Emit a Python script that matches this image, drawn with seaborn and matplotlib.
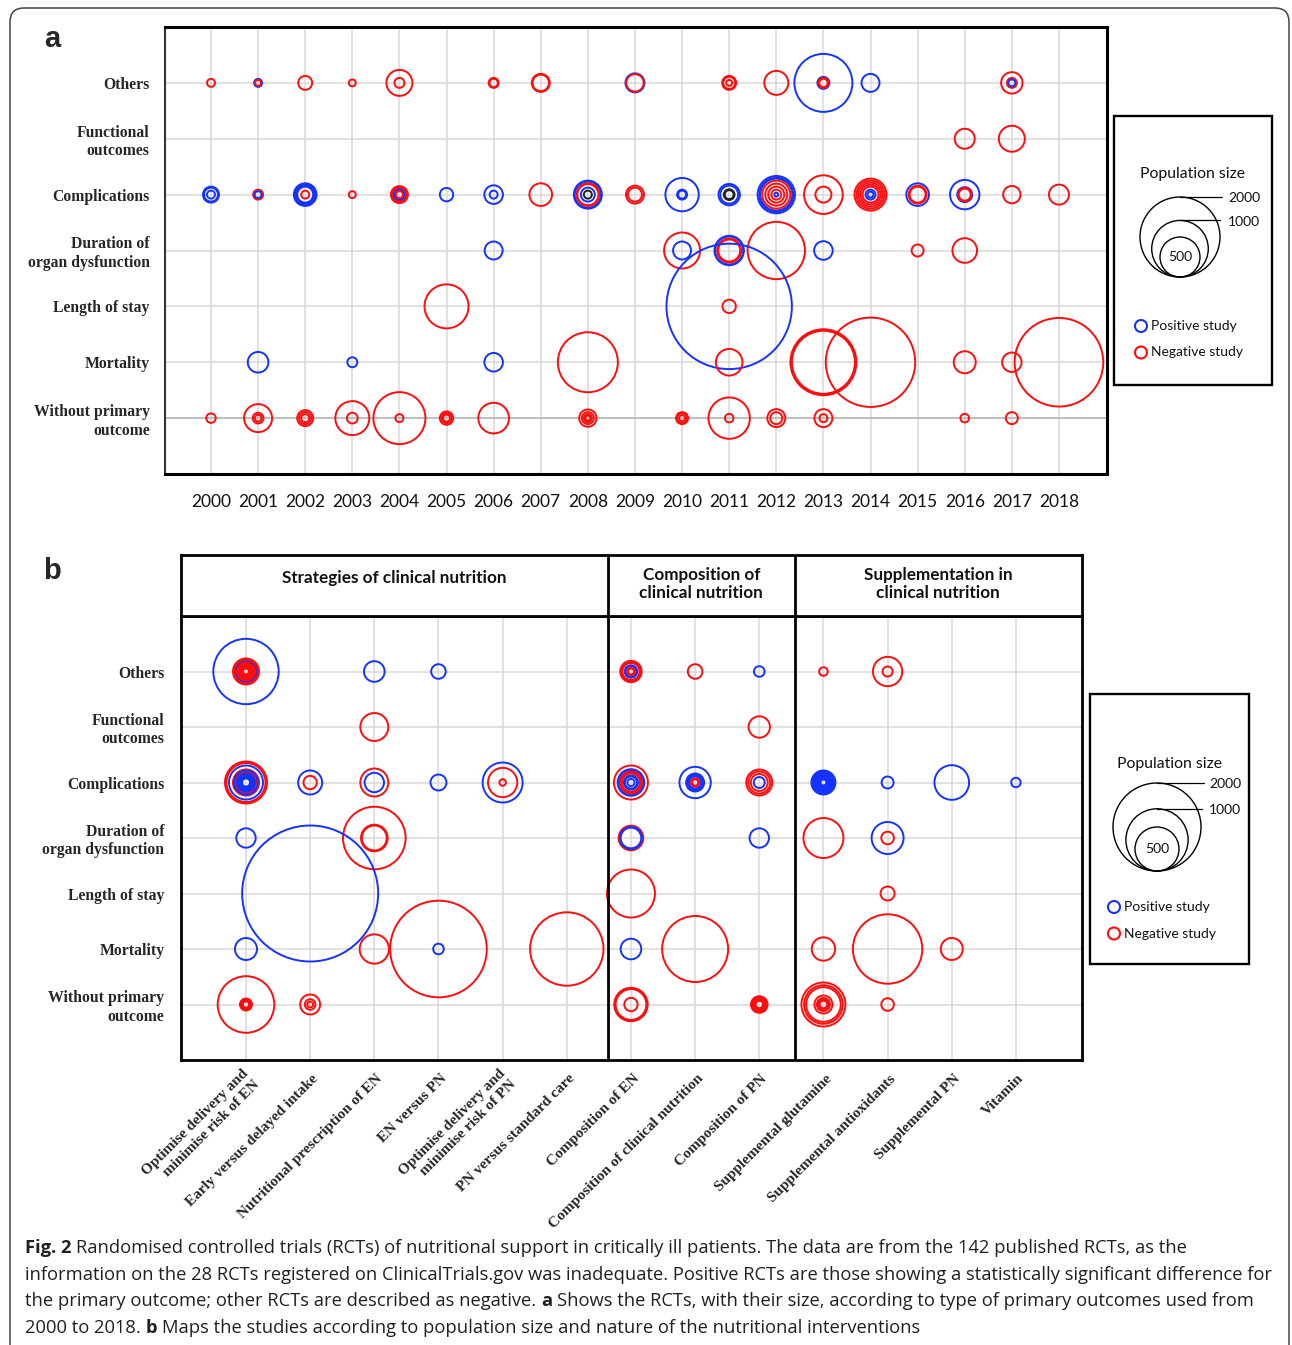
import numpy as np
import pandas as pd
import matplotlib
matplotlib.use("Agg")
import matplotlib.pyplot as plt
import matplotlib.transforms as mtransforms
from matplotlib.patches import Circle, Rectangle, FancyBboxPatch
import seaborn as sns

W, H, DPI = 1292, 1345, 100

# ---------------- data ----------------
OUTCOMES = ["Others", "Functional\noutcomes", "Complications",
            "Duration of\norgan dysfunction", "Length of stay", "Mortality",
            "Without primary\noutcome"]
YEARS = list(range(2000, 2019))
INTERVENTIONS = ["Optimise delivery and\nminimise risk of EN", "Early versus delayed intake",
                 "Nutritional prescription of EN", "EN versus PN",
                 "Optimise delivery and\nminimise risk of PN", "PN versus standard care",
                 "Composition of EN", "Composition of clinical nutrition", "Composition of PN",
                 "Supplemental glutamine", "Supplemental antioxidants", "Supplemental PN", "Vitamin"]
GROUPS = ["Strategies of clinical nutrition", "Composition of\nclinical nutrition",
          "Supplementation in\nclinical nutrition"]
RESULT_COLORS = {"P": "#1533ff", "N": "#ff0d0d", "U": "#222222"}
LEGEND_SIZES = [2000, 1000, 500]

# panel a: (year, population size, result)
A_OTHERS = [(2000, 20, "N"), (2001, 20, "P"), (2001, 11, "N"), (2002, 61, "N"), (2003, 15, "N"),
            (2004, 211, "N"), (2004, 31, "N"), (2006, 31, "N"), (2006, 22, "N"),
            (2007, 101, "N"), (2007, 85, "N"), (2009, 113, "P"), (2009, 95, "N"),
            (2011, 61, "N"), (2011, 45, "N"), (2011, 11, "N"), (2012, 180, "N"),
            (2013, 1051, "P"), (2013, 45, "P"), (2013, 31, "N"), (2013, 22, "N"),
            (2014, 101, "P"), (2017, 143, "N"), (2017, 31, "N"), (2017, 15, "P")]
A_FUNCTIONAL = [(2016, 125, "N"), (2017, 211, "N")]
A_COMPLICATIONS = [(2000, 80, "P"), (2000, 61, "P"), (2000, 20, "P"),
                   (2001, 31, "N"), (2001, 15, "P"),
                   (2002, 160, "P"), (2002, 130, "P"), (2002, 100, "P"), (2002, 80, "P"), (2002, 20, "N"),
                   (2003, 15, "N"),
                   (2004, 90, "N"), (2004, 70, "N"), (2004, 50, "N"), (2004, 31, "P"), (2004, 15, "N"),
                   (2005, 56, "P"), (2006, 108, "P"), (2006, 20, "P"), (2007, 160, "N"),
                   (2008, 245, "P"), (2008, 215, "P"), (2008, 160, "N"), (2008, 140, "N"),
                   (2008, 61, "P"), (2008, 20, "U"),
                   (2009, 101, "N"), (2009, 61, "N"),
                   (2010, 348, "P"), (2010, 31, "P"), (2010, 20, "P"),
                   (2011, 143, "P"), (2011, 101, "P"), (2011, 36, "U"), (2011, 25, "U"),
                   (2012, 436, "P"), (2012, 361, "P"), (2012, 320, "P"), (2012, 245, "N"),
                   (2012, 151, "N"), (2012, 80, "N"), (2012, 31, "N"), (2012, 5, "P"),
                   (2013, 467, "N"), (2013, 80, "N"),
                   (2014, 320, "N"), (2014, 245, "N"), (2014, 180, "N"), (2014, 125, "N"),
                   (2014, 80, "N"), (2014, 31, "P"), (2014, 11, "P"),
                   (2015, 160, "P"), (2015, 101, "N"), (2015, 80, "N"),
                   (2016, 270, "P"), (2016, 70, "P"), (2016, 56, "N"), (2016, 45, "N"),
                   (2017, 94, "N"), (2018, 125, "N")]
A_DURATION = [(2006, 101, "P"), (2010, 405, "N"), (2010, 101, "P"),
              (2011, 270, "P"), (2011, 245, "P"), (2011, 180, "N"), (2011, 151, "N"),
              (2012, 1028, "N"), (2013, 108, "P"), (2015, 45, "N"), (2016, 190, "N")]
A_LOS = [(2005, 605, "N"), (2011, 4914, "P"), (2011, 56, "N")]
A_MORTALITY = [(2001, 133, "P"), (2003, 31, "P"), (2006, 108, "P"), (2008, 1125, "N"),
               (2011, 221, "N"), (2013, 1361, "N"), (2013, 1300, "N"), (2013, 1240, "N"),
               (2014, 2497, "N"), (2016, 151, "N"), (2017, 118, "N"), (2018, 2453, "N")]
A_WITHOUT = [(2000, 28, "N"), (2001, 245, "N"), (2001, 36, "N"), (2001, 14, "N"),
             (2002, 80, "N"), (2002, 45, "N"), (2002, 20, "N"), (2003, 361, "N"), (2003, 36, "N"),
             (2004, 845, "N"), (2004, 20, "N"), (2005, 56, "N"), (2005, 31, "N"), (2005, 15, "N"),
             (2006, 294, "N"), (2008, 94, "N"), (2008, 45, "N"), (2008, 20, "N"), (2008, 8, "N"),
             (2010, 45, "N"), (2010, 31, "N"), (2010, 11, "N"), (2011, 535, "N"), (2011, 23, "N"),
             (2012, 101, "N"), (2012, 45, "N"), (2013, 101, "N"), (2013, 20, "N"),
             (2016, 23, "N"), (2017, 45, "N")]

# panel b: (intervention index, population size, result)
B_OTHERS = [(0, 1104, "P"), (0, 175, "N"), (0, 149, "N"), (0, 125, "N"), (0, 103, "P"),
            (0, 84, "N"), (0, 66, "N"), (0, 51, "N"), (0, 37, "N"), (0, 26, "N"), (0, 17, "N"), (0, 9, "N"),
            (2, 110, "P"), (3, 55, "P"),
            (6, 118, "N"), (6, 95, "N"), (6, 75, "N"), (6, 40, "P"), (6, 30, "P"), (6, 15, "N"), (6, 9, "N"),
            (7, 55, "N"), (8, 29, "P"), (9, 19, "N"), (10, 222, "N"), (10, 26, "N")]
B_FUNCTIONAL = [(2, 202, "N"), (8, 118, "N")]
B_COMPLICATIONS = [(0, 456, "N"), (0, 393, "N"), (0, 299, "P"), (0, 175, "N"), (0, 149, "P"),
                   (0, 125, "P"), (0, 103, "N"), (0, 84, "P"), (0, 66, "P"), (0, 51, "P"),
                   (0, 37, "P"), (0, 26, "P"), (0, 17, "P"),
                   (1, 149, "P"), (1, 46, "N"), (2, 202, "N"), (2, 97, "P"), (3, 66, "P"),
                   (4, 413, "P"), (4, 222, "N"), (4, 11, "N"),
                   (6, 299, "N"), (6, 183, "P"), (6, 160, "P"), (6, 125, "N"), (6, 100, "N"),
                   (6, 84, "N"), (6, 51, "P"), (6, 37, "P"), (6, 13, "P"),
                   (7, 254, "P"), (7, 84, "P"), (7, 66, "P"), (7, 51, "P"), (7, 37, "P"),
                   (7, 17, "N"), (7, 10, "N"),
                   (8, 175, "N"), (8, 125, "N"), (8, 75, "N"), (8, 31, "P"),
                   (9, 149, "P"), (9, 125, "P"), (9, 103, "P"), (9, 84, "P"), (9, 66, "P"),
                   (9, 51, "P"), (9, 37, "P"), (9, 26, "P"), (9, 17, "P"), (9, 9, "P"),
                   (10, 37, "P"), (11, 310, "P"), (12, 23, "P")]
B_DURATION = [(0, 97, "P"), (2, 1012, "N"), (2, 183, "N"), (2, 160, "N"),
              (6, 157, "N"), (6, 125, "P"), (6, 110, "P"), (8, 97, "P"), (9, 413, "N"),
              (10, 264, "P"), (10, 41, "N")]
B_LOS = [(1, 4777, "P"), (6, 595, "N"), (10, 51, "N")]
B_MORTALITY = [(0, 125, "P"), (2, 222, "N"), (3, 2410, "N"), (3, 29, "P"), (5, 1391, "N"),
               (6, 110, "P"), (7, 1125, "N"), (9, 141, "N"), (10, 1244, "N"), (11, 125, "N")]
B_WITHOUT = [(0, 827, "N"), (0, 37, "N"), (0, 31, "N"), (0, 26, "N"), (0, 20, "N"), (0, 15, "N"), (0, 10, "N"),
             (1, 103, "N"), (1, 29, "N"), (1, 9, "N"),
             (6, 288, "N"), (6, 264, "N"), (6, 245, "N"), (6, 46, "N"),
             (8, 71, "N"), (8, 60, "N"), (8, 45, "N"), (8, 33, "N"), (8, 23, "N"), (8, 14, "N"),
             (9, 500, "N"), (9, 385, "N"), (9, 310, "N"), (9, 84, "N"), (9, 44, "N"), (9, 26, "N"), (9, 15, "N"),
             (10, 41, "N")]

A_ROWS = [A_OTHERS, A_FUNCTIONAL, A_COMPLICATIONS, A_DURATION, A_LOS, A_MORTALITY, A_WITHOUT]
B_ROWS = [B_OTHERS, B_FUNCTIONAL, B_COMPLICATIONS, B_DURATION, B_LOS, B_MORTALITY, B_WITHOUT]

CAPTION = [
    [("Fig. 2", True), (" Randomised controlled trials (RCTs) of nutritional support in critically ill patients. The data are from the 142 published RCTs, as the", False)],
    [("information on the 28 RCTs registered on ClinicalTrials.gov was inadequate. Positive RCTs are those showing a statistically significant difference for", False)],
    [("the primary outcome; other RCTs are described as negative. ", False), ("a", True), (" Shows the RCTs, with their size, according to type of primary outcomes used from", False)],
    [("2000 to 2018. ", False), ("b", True), (" Maps the studies according to population size and nature of the nutritional interventions", False)],
]


def frame(rows, xname):
    recs = []
    for yi, studies in enumerate(rows):
        for xv, n, res in studies:
            recs.append({xname: xv, "row": yi, "n": n, "result": res})
    return pd.DataFrame(recs)


# ---------------- figure ----------------
sns.set_style("white")
plt.rcParams["font.family"] = ["DejaVu Sans"]
fig = plt.figure(figsize=(W / DPI, H / DPI), dpi=DPI)

SERIF = ["Liberation Serif", "DejaVu Serif"]
SANS = ["Lato", "Open Sans", "DejaVu Sans"]
GRID = "#d9d9d9"
LW_RING = 1.4


def px_axes(x0, y0, x1, y1):
    return fig.add_axes([x0 / W, 1 - y1 / H, (x1 - x0) / W, (y1 - y0) / H])


def ring_scatter(ax, df, xcol, r2000):
    # marker area proportional to population size; r2000 = radius (px) of a 2000-patient study
    s2000 = (2 * r2000 * 72 / DPI) ** 2
    nmax = float(df["n"].max())
    sns.scatterplot(data=df, x=xcol, y="row", size="n", sizes=(0, s2000 * nmax / 2000),
                    size_norm=(0, nmax), hue="result", palette=RESULT_COLORS, legend=False,
                    linewidth=LW_RING, ax=ax, zorder=3)
    coll = ax.collections[-1]
    coll.set_edgecolors(coll.get_facecolors())
    coll.set_facecolors("none")
    ax.set_xlabel("")
    ax.set_ylabel("")


# ---- panel a ----
A_R2000 = 40
ax_a = px_axes(165, 27, 1107, 474)
ring_scatter(ax_a, frame(A_ROWS, "year"), "year", A_R2000)
ax_a.set_xlim(YEARS[0] - 0.976, YEARS[-1] + 1.02)
ax_a.set_ylim(len(OUTCOMES), -1)
ax_a.set_xticks(YEARS)
ax_a.set_xticklabels([str(y) for y in YEARS], fontsize=12.5, family=SANS, color="#111111")
ax_a.set_yticks(range(len(OUTCOMES)))
ax_a.set_yticklabels(OUTCOMES, fontsize=11.3, family=SERIF, fontweight="bold")
ax_a.tick_params(axis="x", length=0, pad=14.5)
ax_a.tick_params(axis="y", length=0, pad=11)
ax_a.grid(True, color=GRID, lw=1.1)
ax_a.set_axisbelow(True)
ax_a.axhline(len(OUTCOMES) - 1, color="#b5b5b5", lw=1.1, zorder=1)
for s in ["top", "right", "bottom"]:
    ax_a.spines[s].set_linewidth(2.2)
    ax_a.spines[s].set_color("black")
ax_a.spines["left"].set_linewidth(1.5)
ax_a.spines["left"].set_color("#333333")

# ---- panel b ----
B_R2000 = 44
ax_b = px_axes(181, 616, 1082, 1060)
ring_scatter(ax_b, frame(B_ROWS, "col"), "col", B_R2000)
ax_b.set_xlim(-1.013, len(INTERVENTIONS) + 0.03)
ax_b.set_ylim(len(OUTCOMES), -1)
ax_b.set_xticks(range(len(INTERVENTIONS)))
ax_b.set_xticklabels(INTERVENTIONS, fontsize=11.0, family=SERIF, fontweight="bold",
                     rotation=45, ha="right", va="center", rotation_mode="anchor",
                     linespacing=1.3)
ax_b.set_yticks(range(len(OUTCOMES)))
ax_b.set_yticklabels(OUTCOMES, fontsize=11.3, family=SERIF, fontweight="bold")
ax_b.tick_params(axis="x", length=0, pad=12)
ax_b.tick_params(axis="y", length=0, pad=12)
ax_b.grid(True, color=GRID, lw=1.1)
ax_b.set_axisbelow(True)
for s in ax_b.spines.values():
    s.set_linewidth(2.0)
    s.set_color("black")
shift = mtransforms.ScaledTranslation(6 / DPI, 0, fig.dpi_scale_trans)
for lab in ax_b.get_xticklabels():
    lab.set_transform(lab.get_transform() + shift)

GROUP_EDGES = [ax_b.get_xlim()[0], 5.64, 8.55, ax_b.get_xlim()[1]]
for xv in GROUP_EDGES[1:-1]:
    ax_b.axvline(xv, color="black", lw=2.0, zorder=4)

ax_h = px_axes(181, 555, 1082, 616)
ax_h.set_xlim(ax_b.get_xlim())
ax_h.set_ylim(0, 1)
ax_h.set_xticks([])
ax_h.set_yticks([])
for s in ax_h.spines.values():
    s.set_linewidth(2.0)
    s.set_color("black")
for xv in GROUP_EDGES[1:-1]:
    ax_h.axvline(xv, color="black", lw=2.0)
for i, g in enumerate(GROUPS):
    ax_h.text((GROUP_EDGES[i] + GROUP_EDGES[i + 1]) / 2, 0.62 if "\n" not in g else 0.52, g,
              ha="center", va="center", fontsize=12.3, family=SANS, fontweight="bold",
              color="#111111", linespacing=1.15)

# ---- overlay (legends, panel letters, caption) ----
ov = fig.add_axes([0, 0, 1, 1], zorder=10)
ov.set_xlim(0, W)
ov.set_ylim(H, 0)
ov.axis("off")
ov.patch.set_alpha(0)

ov.add_patch(FancyBboxPatch((10, 8), 1279, 1420, boxstyle="round,pad=0,rounding_size=14",
                            fill=False, lw=1.1, ec="#444444"))

ov.text(52, 39, "a", fontsize=21, fontweight="bold", family=["Liberation Sans", "DejaVu Sans"],
        ha="center", va="center")
ov.text(52, 571, "b", fontsize=21, fontweight="bold", family=["Liberation Sans", "DejaVu Sans"],
        ha="center", va="center")


def size_legend(box, title_y, cx, bottom, r2000, label_x, line_end, mark_x, mark_y0, mark_dy):
    x0, y0, x1, y1 = box
    ov.add_patch(Rectangle((x0, y0), x1 - x0, y1 - y0, fill=False, lw=1.7, ec="black"))
    ov.text((x0 + x1) / 2, title_y, "Population size", ha="center", va="center",
            fontsize=11.3, family=SANS, color="#111111")
    for n in LEGEND_SIZES:
        r = r2000 * np.sqrt(n / LEGEND_SIZES[0])
        ov.add_patch(Circle((cx, bottom - r), r, fill=False, lw=1.0, ec="black"))
    for n, xe in zip(LEGEND_SIZES[:2], line_end):
        r = r2000 * np.sqrt(n / LEGEND_SIZES[0])
        ytop = bottom - 2 * r
        ov.plot([cx, xe], [ytop, ytop], color="black", lw=0.9)
        ov.text(label_x, ytop + 1.5, str(n), ha="left", va="center", fontsize=10,
                family=SANS, color="#111111")
    r5 = r2000 * np.sqrt(LEGEND_SIZES[2] / LEGEND_SIZES[0])
    ov.text(cx, bottom - r5, str(LEGEND_SIZES[2]), ha="center", va="center", fontsize=10,
            family=SANS, color="#111111")
    for k, (lab, key) in enumerate([("Positive study", "P"), ("Negative study", "N")]):
        yy = mark_y0 + k * mark_dy
        ov.add_patch(Circle((mark_x, yy), 6, fill=False, lw=1.5, ec=RESULT_COLORS[key]))
        ov.text(mark_x + 10, yy, lab, ha="left", va="center", fontsize=10, family=SANS,
                color="#111111")


size_legend((1114, 116, 1272, 385), 174, 1180, 277, A_R2000, 1228, (1222, 1220), 1141, 326, 26.5)
size_legend((1090, 694, 1249, 964), 764, 1157, 871, B_R2000, 1209, (1204, 1202), 1114, 907, 26.5)

# caption with bold runs
renderer = fig.canvas.get_renderer()
CAP_FAMILY = ["Liberation Sans Narrow", "Open Sans", "DejaVu Sans"]
probe = ov.text(0, 0, CAPTION[1][0][0], fontsize=10, family=CAP_FAMILY)
wprobe = probe.get_window_extent(renderer).width
probe.remove()
cap_size = 10 * 1253 / wprobe


def text_width(s, bold):
    t = ov.text(0, 0, s, fontsize=cap_size, family=CAP_FAMILY,
                fontweight="bold" if bold else "normal")
    w = t.get_window_extent(renderer).width
    t.remove()
    return w


space_w = text_width("x x", False) - text_width("xx", False)
for li, runs in enumerate(CAPTION):
    x = 25
    y = 1248 + li * 26.7
    for txt, bold in runs:
        lead = len(txt) - len(txt.lstrip(" "))
        trail = len(txt) - len(txt.rstrip(" "))
        core = txt.strip(" ")
        x += lead * space_w
        ov.text(x, y, core, fontsize=cap_size, family=CAP_FAMILY,
                fontweight="bold" if bold else "normal", ha="left", va="center", color="#231f20")
        x += text_width(core, bold) + trail * space_w

fig.savefig("out.png", dpi=DPI)
